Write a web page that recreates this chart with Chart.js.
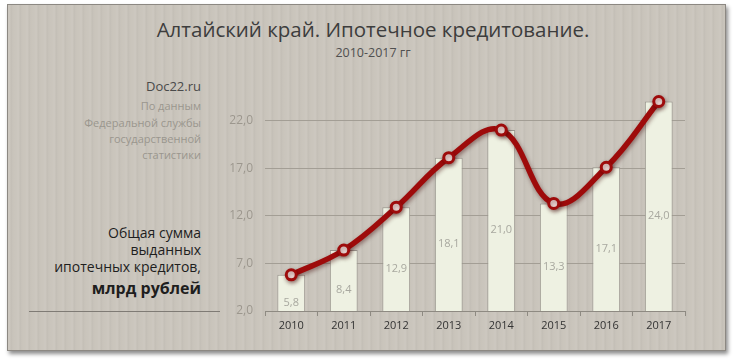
<!DOCTYPE html>
<html><head><meta charset="utf-8">
<script src="https://cdn.jsdelivr.net/npm/chart.js@4.4.0/dist/chart.umd.min.js"></script>
<style>
html,body{margin:0;padding:0;background:#fff;width:733px;height:362px;overflow:hidden;font-family:"Open Sans",sans-serif;}
#card{position:absolute;left:7px;top:4px;width:717px;height:345px;border:1px solid #8c8882;box-shadow:2px 3px 4px rgba(0,0,0,0.45);
background-color:#c9c4bb;
background-image:repeating-linear-gradient(90deg,rgba(255,255,255,0.06) 0px,rgba(255,255,255,0.06) 2px,rgba(0,0,0,0.03) 3px,rgba(0,0,0,0) 5px,rgba(255,255,255,0.04) 9px);}
#wrap{position:absolute;left:0;top:0;width:733px;height:362px;}
.t{position:absolute;white-space:nowrap;}
#title{left:0;width:746px;text-align:center;top:15px;font-size:20.5px;color:#3d3d3d;}
#sub{left:0;width:746px;text-align:center;top:44px;font-size:12.5px;color:#505050;}
.r{right:532px;text-align:right;}
#src{top:77px;font-size:13px;color:#4a4a4a;}
.g{font-size:11px;color:#9a968e;}
.b{font-size:14px;color:#1e1e1e;}
#rule{position:absolute;left:29px;top:311px;width:191px;height:1px;background:#7f7b75;}
</style></head>
<body>
<div id="card"></div>
<div class="t" id="title">Алтайский край. Ипотечное кредитование.</div>
<div class="t" id="sub">2010-2017 гг</div>
<div class="t r" id="src">Doc22.ru</div>
<div class="t r g" style="top:98px">По данным</div>
<div class="t r g" style="top:115px">Федеральной службы</div>
<div class="t r g" style="top:131px">государственной</div>
<div class="t r g" style="top:147px">статистики</div>
<div class="t r b" style="top:223px">Общая сумма</div>
<div class="t r b" style="top:240px">выданных</div>
<div class="t r b" style="top:257px">ипотечных кредитов,</div>
<div class="t r b" style="top:277px;font-size:16px;font-weight:bold;">млрд рублей</div>
<div id="rule"></div>
<div id="wrap"><canvas id="c" width="733" height="362"></canvas></div>
<script>
const categories = ["2010","2011","2012","2013","2014","2015","2016","2017"];
const values = [5.8, 8.4, 12.9, 18.1, 21.0, 13.3, 17.1, 24.0];
const yTicks = [2, 7, 12, 17, 22];
const fmt = v => v.toFixed(1).replace('.', ',');

const barLabels = {
  id: 'barLabels',
  afterDatasetDraw(chart, args) {
    if (args.index !== 1) return;
    const ctx = chart.ctx;
    ctx.save();
    ctx.font = '11px "Open Sans", sans-serif';
    ctx.fillStyle = '#a8a89f';
    ctx.textAlign = 'center';
    ctx.textBaseline = 'middle';
    args.meta.data.forEach((el, i) => {
      ctx.fillText(fmt(values[i]), el.x, (el.y + el.base) / 2);
    });
    ctx.restore();
  }
};
const lineShadow = {
  id: 'lineShadow',
  beforeDatasetDraw(chart, args) {
    if (args.index !== 0) return;
    const ctx = chart.ctx;
    ctx.save();
    ctx.shadowColor = 'rgba(60,0,0,0.45)';
    ctx.shadowBlur = 4;
    ctx.shadowOffsetX = 1;
    ctx.shadowOffsetY = 2;
  },
  afterDatasetDraw(chart, args) {
    if (args.index !== 0) return;
    chart.ctx.restore();
  }
};

new Chart(document.getElementById('c'), {
  type: 'bar',
  data: {
    labels: categories,
    datasets: [
      {
        type: 'line', data: values, order: 0,
        borderColor: '#9e0b0b', borderWidth: 5.5, tension: 0.4,
        pointRadius: 5, pointBorderWidth: 3,
        pointBackgroundColor: '#fbe9e6', pointBorderColor: '#9e0b0b',
        clip: false
      },
      {
        type: 'bar', data: values, order: 1,
        backgroundColor: '#eef1e2', borderColor: '#9a978f', borderWidth: 1,
        barPercentage: 0.53, categoryPercentage: 1.0
      }
    ]
  },
  options: {
    responsive: false, animation: false,
    layout: { padding: { left: 0, right: 48, top: 92, bottom: 0 } },
    plugins: { legend: { display: false }, tooltip: { enabled: false }, title: { display: false } },
    scales: {
      x: {
        afterFit(s) { s.height = 51; },
        grid: { drawOnChartArea: false, drawTicks: true, tickLength: 5, color: '#8e8a82' },
        border: { display: true, color: '#8e8a82', width: 1 },
        ticks: { color: '#333', font: { size: 11, family: '"Open Sans", sans-serif' }, padding: 3 }
      },
      y: {
        min: 2, max: 25,
        afterFit(s) { s.width = 265; },
        afterBuildTicks(s) { s.ticks = yTicks.map(v => ({ value: v })); },
        grid: { drawTicks: false, color: '#a39e95', lineWidth: 1 },
        border: { display: false },
        ticks: { color: '#9c978e', font: { size: 12, family: '"Open Sans", sans-serif' }, padding: 12, callback: v => fmt(v) }
      }
    }
  },
  plugins: [barLabels, lineShadow]
});
</script>
</body></html>
